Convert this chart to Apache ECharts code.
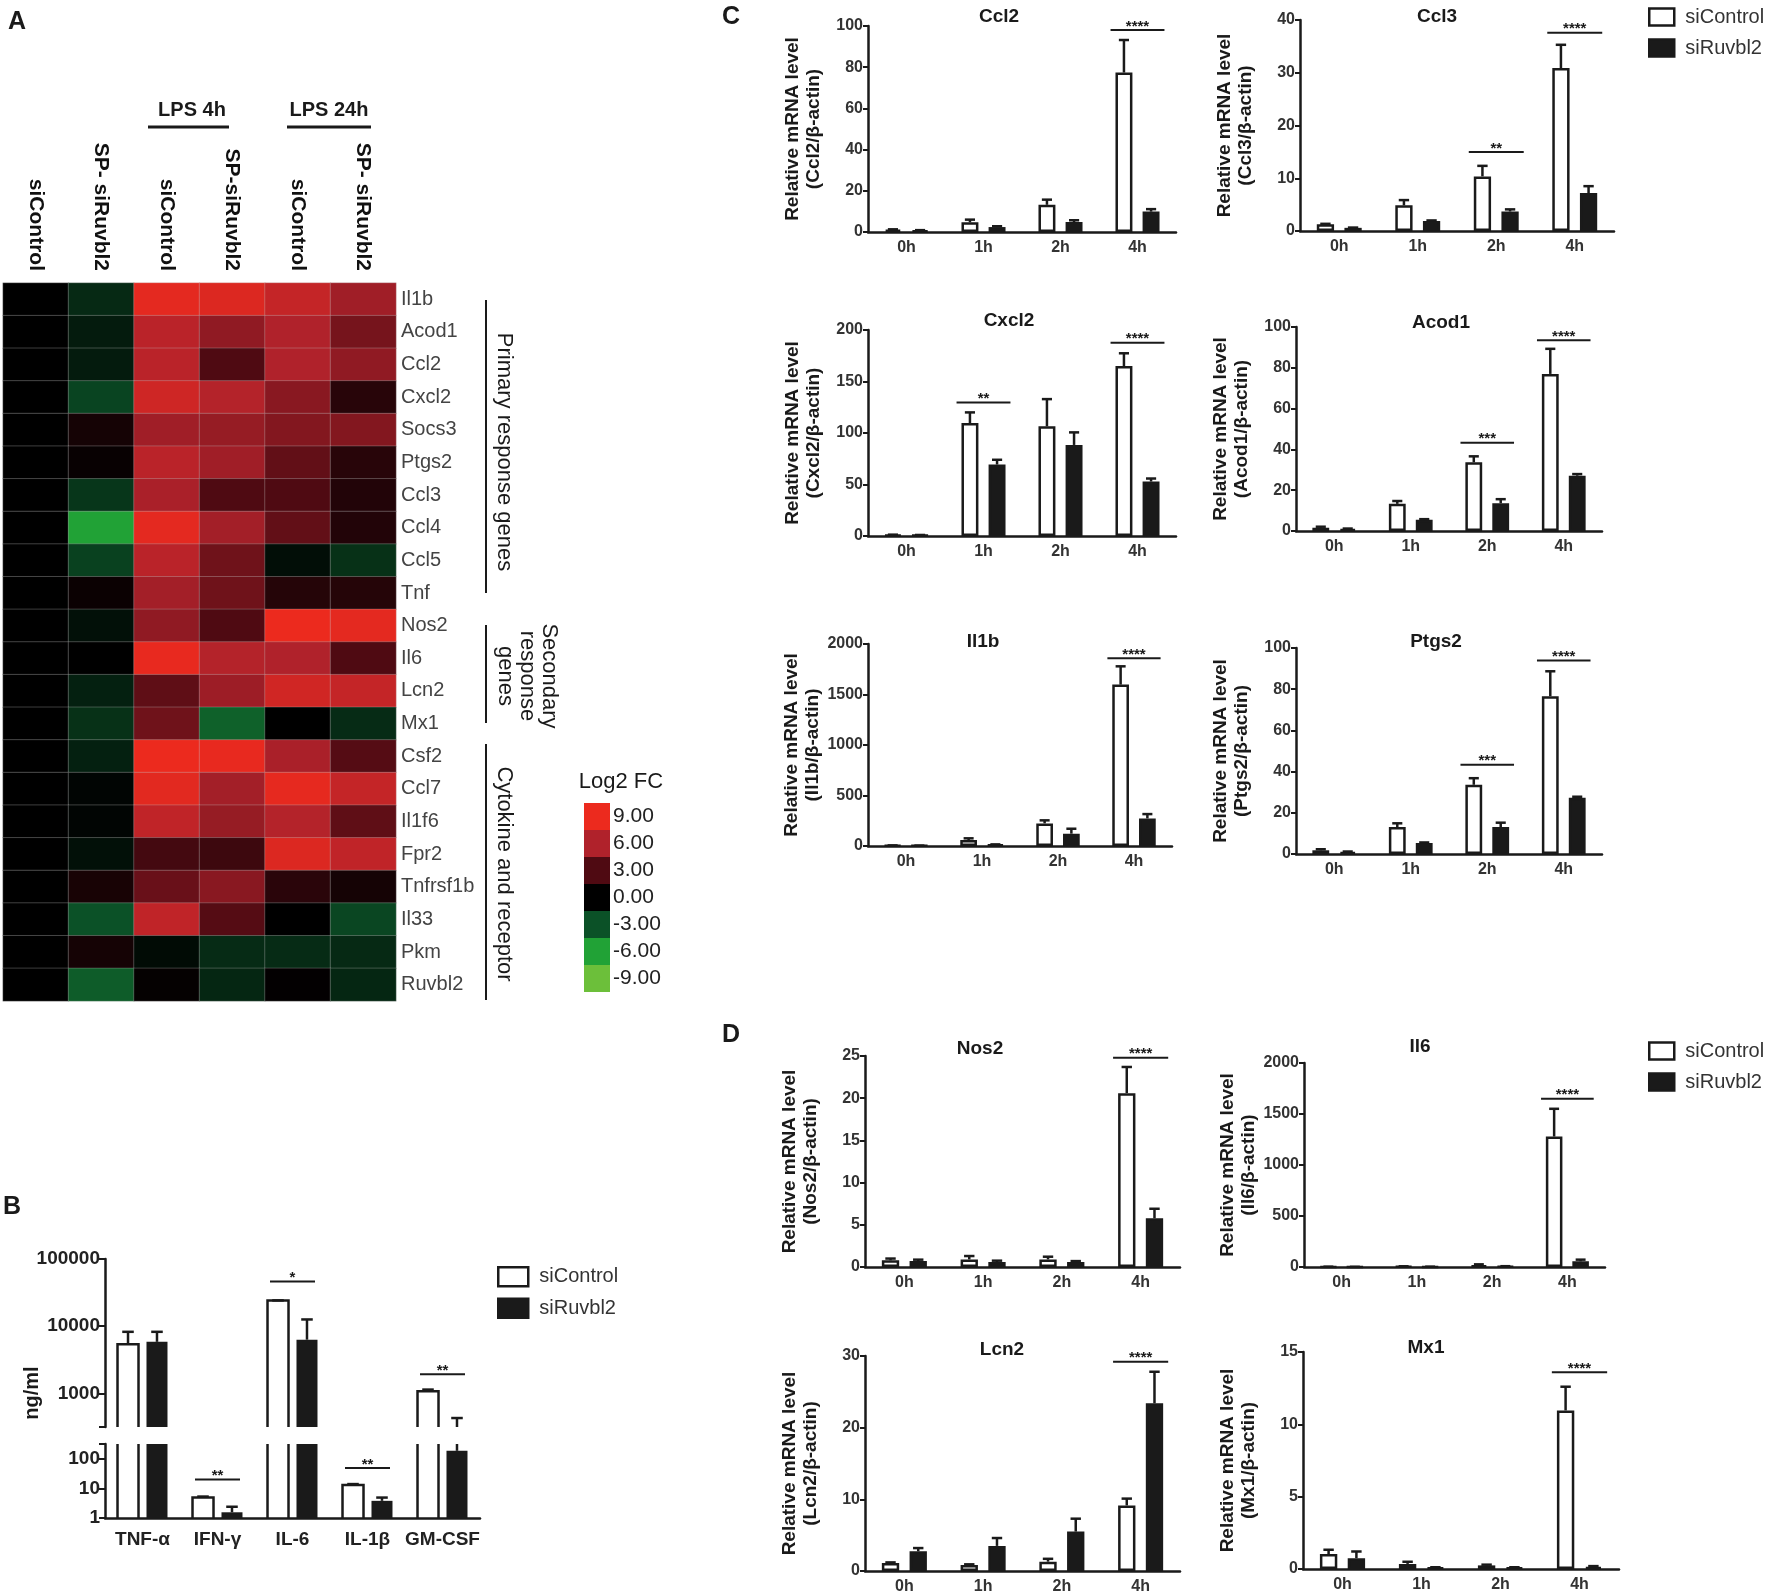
<!DOCTYPE html>
<html>
<head>
<meta charset="utf-8">
<script src="https://cdn.jsdelivr.net/npm/echarts@6/dist/echarts.min.js"></script>
<style>
html, body { margin: 0; padding: 0; background: #fff; }
#main { width: 1772px; height: 1594px; }
</style>
</head>
<body>
<div id="main"></div>
<script>
// ---------- A: heatmap ----------
const heatSamples = ['siControl', 'SP- siRuvbl2', 'siControl', 'SP-siRuvbl2', 'siControl', 'SP- siRuvbl2'];
const heatGenes = ['Il1b', 'Acod1', 'Ccl2', 'Cxcl2', 'Socs3', 'Ptgs2', 'Ccl3', 'Ccl4', 'Ccl5', 'Tnf',
  'Nos2', 'Il6', 'Lcn2', 'Mx1', 'Csf2', 'Ccl7', 'Il1f6', 'Fpr2', 'Tnfrsf1b', 'Il33', 'Pkm', 'Ruvbl2'];
const heatLog2fc = [
  [0, -1.5, 8.6, 8.2, 7.0, 5.5],
  [0, -1.0, 6.5, 5.0, 6.0, 4.2],
  [0, -1.0, 6.5, 3.0, 6.0, 5.0],
  [0, -2.5, 7.5, 6.2, 4.8, 1.5],
  [0, 0.8, 5.5, 5.2, 4.6, 4.6],
  [0, 0.3, 6.5, 5.5, 3.6, 1.5],
  [0, -2.0, 5.8, 3.0, 3.0, 1.3],
  [0, -6.0, 8.6, 5.6, 3.6, 1.3],
  [0, -2.4, 6.5, 4.0, -0.5, -1.8],
  [0, 0.4, 5.6, 4.0, 1.4, 1.4],
  [0, -0.6, 5.0, 3.0, 9.0, 8.6],
  [0, 0.0, 8.8, 6.2, 6.0, 3.0],
  [0, -1.2, 3.5, 5.4, 7.6, 7.0],
  [0, -1.8, 4.0, -3.6, 0.0, -1.6],
  [0, -1.2, 9.0, 8.8, 5.8, 3.2],
  [0, -0.2, 8.5, 5.6, 8.7, 7.0],
  [0, -0.2, 6.8, 5.2, 6.2, 3.5],
  [0, -0.6, 2.6, 2.3, 8.2, 6.8],
  [0, 0.9, 3.8, 4.8, 1.6, 0.8],
  [0, -3.0, 6.8, 3.2, 0.0, -2.6],
  [0, 0.8, -0.4, -1.6, -1.6, -1.5],
  [0, -3.4, 0.2, -1.4, 0.1, -1.4]
];
const fcLevels = [-9, -6, -3, 0, 3, 6, 9];
const fcLabels = ['-9.00', '-6.00', '-3.00', '0.00', '3.00', '6.00', '9.00'];
const fcColors = ['#6cbf3a', '#21a236', '#0b5127', '#000000', '#4f0a12', '#b0222b', '#ec2a1e'];

// ---------- B: ELISA (log scale, broken axis) ----------
const bCats = ['TNF-α', 'IFN-γ', 'IL-6', 'IL-1β', 'GM-CSF'];
const bCtrl = [5400, 4.9, 24200, 13, 1080];
const bCtrlSd = [2850, 0.4, 0, 1, 60];
const bRuv = [5850, 1.56, 6300, 3.8, 186];
const bRuvSd = [2400, 0.84, 6300, 1.1, 244];
const bSig = [[1, 20, '**'], [2, 46400, '*'], [3, 49, '**'], [4, 1920, '**']];
const bBreak = 316.2278;
const bTop = 100000;

// ---------- C / D: qPCR ----------
const timeCats = ['0h', '1h', '2h', '4h'];

const ccl2Ctrl = [1.1, 4.7, 13.2, 77.4], ccl2CtrlSd = [0.2, 1.3, 2.5, 15.8];
const ccl2Ruv = [0.8, 2.4, 4.8, 9.9], ccl2RuvSd = [0.1, 0.4, 0.9, 1.2];
const ccl2Sig = [[3, 98, '****']];

const ccl3Ctrl = [1.26, 4.86, 10.35, 30.9], ccl3CtrlSd = [0.1, 1.0, 2.0, 4.4];
const ccl3Ruv = [0.6, 1.9, 3.7, 7.2], ccl3RuvSd = [0.05, 0.1, 0.4, 1.3];
const ccl3Sig = [[2, 15, '**'], [3, 37.6, '****']];

const cxcl2Ctrl = [1.0, 109.7, 106.5, 165], cxcl2CtrlSd = [0.3, 10.3, 26.4, 12.4];
const cxcl2Ruv = [0.8, 69.4, 88.4, 52.9], cxcl2RuvSd = [0.2, 4.6, 12.2, 2.9];
const cxcl2Sig = [[1, 129.7, '**'], [3, 187.7, '****']];

const acod1Ctrl = [1.6, 13.3, 33.7, 77.0], acod1CtrlSd = [0.5, 1.4, 2.9, 12.3];
const acod1Ruv = [1.0, 5.5, 13.6, 27.1], acod1RuvSd = [0.2, 0.3, 2.0, 0.8];
const acod1Sig = [[2, 43.3, '***'], [3, 93.5, '****']];

const il1bCtrl = [5, 59, 224, 1598], il1bCtrlSd = [1, 17, 30, 181];
const il1bRuv = [3, 13, 122, 273], il1bRuvSd = [1, 3, 49, 43];
const il1bSig = [[3, 1858, '****']];

const ptgs2Ctrl = [1.8, 13.1, 33.6, 76.6], ptgs2CtrlSd = [0.5, 1.8, 3.2, 12.1];
const ptgs2Ruv = [1.0, 5.3, 13.1, 27.3], ptgs2RuvSd = [0.2, 0.3, 2.1, 0.5];
const ptgs2Sig = [[2, 43.3, '***'], [3, 93.9, '****']];

const nos2Ctrl = [0.79, 0.9, 0.9, 20.6], nos2CtrlSd = [0.21, 0.4, 0.32, 3.1];
const nos2Ruv = [0.7, 0.6, 0.6, 5.77], nos2RuvSd = [0.17, 0.15, 0.1, 1.13];
const nos2Sig = [[3, 24.8, '****']];

const il6Ctrl = [2, 5, 16, 1279], il6CtrlSd = [1, 2, 10, 272];
const il6Ruv = [1, 2, 6, 56], il6RuvSd = [0.5, 1, 2, 16];
const il6Sig = [[3, 1649, '****']];

const lcn2Ctrl = [1.1, 0.84, 1.3, 9.15], lcn2CtrlSd = [0.1, 0.09, 0.4, 0.95];
const lcn2Ruv = [2.75, 3.5, 5.5, 23.4], lcn2RuvSd = [0.45, 1.1, 1.8, 4.4];
const lcn2Sig = [[3, 29.2, '****']];

const mx1Ctrl = [1.03, 0.35, 0.25, 10.96], mx1CtrlSd = [0.3, 0.15, 0.05, 1.64];
const mx1Ruv = [0.75, 0.1, 0.1, 0.15], mx1RuvSd = [0.46, 0.02, 0.02, 0.05];
const mx1Sig = [[3, 13.6, '****']];

const qpcrGenes = ['Ccl2', 'Ccl3', 'Cxcl2', 'Acod1', 'Il1b', 'Ptgs2', 'Nos2', 'Il6', 'Lcn2', 'Mx1'];
const qpcrAxisMax = [100, 40, 200, 100, 2000, 100, 25, 2000, 30, 15];
const qpcrAxisStep = [20, 10, 50, 20, 500, 20, 5, 500, 10, 5];

// ---------- drawing ----------
const SANS = "'Liberation Sans', Arial, sans-serif";
const NARROW = "'Liberation Sans Narrow', 'Liberation Sans', Arial, sans-serif";
const INK = '#1a1a1a';

const option = {
  animation: false,
  backgroundColor: '#fff',
  grid: [], xAxis: [], yAxis: [], series: [], legend: [], visualMap: [], graphic: []
};

function addText(x, y, str, font, extra) {
  option.graphic.push(Object.assign({
    type: 'text', x: x, y: y, silent: true,
    style: { text: str, font: font, fill: INK, textAlign: 'center', textVerticalAlign: 'middle' }
  }, extra || {}));
}
function addLine(x1, y1, x2, y2, w) {
  option.graphic.push({ type: 'line', silent: true, shape: { x1: x1, y1: y1, x2: x2, y2: y2 }, style: { stroke: INK, lineWidth: w || 2 } });
}

// panel letters
addText(17, 22, 'A', 'bold 25px ' + SANS, {});
addText(12, 1207, 'B', 'bold 25px ' + SANS, {});
addText(731, 17, 'C', 'bold 25px ' + SANS, {});
addText(731, 1035, 'D', 'bold 25px ' + SANS, {});

// ---- heatmap ----
option.grid.push({ left: 3, top: 283, width: 393, height: 718, outerBoundsMode: 'none' });
option.xAxis.push({
  type: 'category', gridIndex: 0, position: 'top', data: heatSamples,
  axisLine: { show: false }, axisTick: { show: false }, splitLine: { show: false },
  axisLabel: { rotate: 90, interval: 0, margin: 12, fontFamily: SANS, fontWeight: 'bold', fontSize: 21, color: '#111' }
});
option.yAxis.push({
  type: 'category', gridIndex: 0, position: 'right', inverse: true, data: heatGenes,
  axisLine: { show: false }, axisTick: { show: false }, splitLine: { show: false },
  axisLabel: { interval: 0, margin: 5, fontFamily: SANS, fontSize: 20, color: '#444' }
});
const heatData = [];
heatLog2fc.forEach(function (row, r) { row.forEach(function (v, c) { heatData.push([c, r, v]); }); });
option.series.push({
  type: 'heatmap', xAxisIndex: 0, yAxisIndex: 0, data: heatData,
  itemStyle: { borderColor: 'rgba(200,200,200,0.3)', borderWidth: 1 }
});
option.series.push({ type: 'scatter', xAxisIndex: 0, yAxisIndex: 0, data: [], silent: true });
option.visualMap.push({
  type: 'continuous', show: false, seriesIndex: 0, dimension: 2, min: -9, max: 9,
  inRange: { color: fcColors }
});
option.visualMap.push({
  type: 'piecewise', seriesIndex: 1, orient: 'vertical', left: 579, top: 798, padding: 5,
  itemWidth: 26, itemHeight: 27, itemGap: 0, itemSymbol: 'rect', selectedMode: false,
  textGap: 3, textStyle: { fontFamily: SANS, fontSize: 21, color: '#222' },
  pieces: fcLevels.map(function (v, i) { return { value: v, label: fcLabels[i], color: fcColors[i] }; })
});
addText(621, 782, 'Log2 FC', '22px ' + SANS);
addText(192, 110, 'LPS 4h', 'bold 20px ' + SANS);
addText(329, 110, 'LPS 24h', 'bold 20px ' + SANS);
addLine(148, 127, 229, 127, 3);
addLine(287, 127, 371, 127, 3);
addLine(486, 300, 486, 593, 2);
addLine(486, 625, 486, 723, 2);
addLine(486, 744, 486, 1000, 2);
addText(504, 452, 'Primary response genes', '22px ' + SANS, { rotation: -Math.PI / 2 });
addText(527, 676, 'Secondary\nresponse\ngenes', '22px ' + SANS, { rotation: -Math.PI / 2 });
addText(504, 874, 'Cytokine and receptor', '22px ' + SANS, { rotation: -Math.PI / 2 });

// ---- shared bar helpers ----
function bandWidth(api, v) {
  return api.coord([1, v])[0] - api.coord([0, v])[0];
}
// error bar above a bar: off = centre offset, cap = cap width, both as fraction of the band
function errSeries(ax, mean, sd, off, cap, clip) {
  return {
    type: 'custom', xAxisIndex: ax, yAxisIndex: ax, clip: clip, z: 4, silent: true,
    data: mean.map(function (m, i) { return [i, m, m + sd[i]]; }),
    renderItem: function (params, api) {
      const a = api.coord([api.value(0), api.value(1)]);
      const b = api.coord([api.value(0), api.value(2)]);
      const bw = bandWidth(api, api.value(1));
      const x = a[0] + off * bw, c = cap * bw / 2;
      const st = { stroke: INK, lineWidth: 2.5 };
      return { type: 'group', children: [
        { type: 'line', shape: { x1: x, y1: a[1], x2: x, y2: b[1] }, style: st },
        { type: 'line', shape: { x1: x - c, y1: b[1], x2: x + c, y2: b[1] }, style: st }
      ] };
    }
  };
}
// open outline of a bar (no bottom edge), so bars cut by the axis break stay open
function outlineSeries(ax, values, off, bar) {
  return {
    type: 'custom', xAxisIndex: ax, yAxisIndex: ax, clip: true, z: 3, silent: true,
    data: values.map(function (v, i) { return [i, v]; }),
    renderItem: function (params, api) {
      const p = api.coord([api.value(0), api.value(1)]);
      const base = api.coord([api.value(0), 1])[1];
      const bw = bandWidth(api, api.value(1));
      const x = p[0] + off * bw, h = bar * bw / 2;
      return { type: 'polyline',
        shape: { points: [[x - h, base], [x - h, p[1]], [x + h, p[1]], [x + h, base]] },
        style: { stroke: INK, lineWidth: 2.5, fill: null } };
    }
  };
}
function sigSeries(ax, sig, half) {
  return {
    type: 'custom', xAxisIndex: ax, yAxisIndex: ax, clip: false, z: 5, silent: true,
    data: sig.map(function (s) { return [s[0], s[1]]; }),
    renderItem: function (params, api) {
      const p = api.coord([api.value(0), api.value(1)]);
      const bw = bandWidth(api, api.value(1));
      return { type: 'group', children: [
        { type: 'line', shape: { x1: p[0] - half * bw, y1: p[1], x2: p[0] + half * bw, y2: p[1] }, style: { stroke: INK, lineWidth: 2 } },
        { type: 'text', x: p[0], y: p[1] + 4, style: { text: sig[params.dataIndex][2], font: 'bold 15px ' + SANS, fill: INK, textAlign: 'center', textVerticalAlign: 'bottom' } }
      ] };
    }
  };
}
function addBars(ax, ctrl, ctrlSd, ruv, ruvSd, bar, gap, cap, broken) {
  const off = (bar + bar * gap) / 2;
  option.series.push({ name: 'siControl', type: 'bar', xAxisIndex: ax, yAxisIndex: ax, data: ctrl,
    barWidth: (bar * 100) + '%', clip: true, silent: true, z: 2,
    itemStyle: broken ? { color: 'rgba(0,0,0,0)', borderWidth: 0 }
                      : { color: '#fff', borderColor: INK, borderWidth: 2.5 } });
  option.series.push({ name: 'siRuvbl2', type: 'bar', xAxisIndex: ax, yAxisIndex: ax, data: ruv,
    barWidth: (bar * 100) + '%', barGap: (gap * 100) + '%', clip: true, silent: true, z: 2,
    itemStyle: { color: INK, borderColor: INK, borderWidth: broken ? 0 : 2.5 } });
  if (broken) option.series.push(outlineSeries(ax, ctrl, -off, bar));
  option.series.push(errSeries(ax, ctrl, ctrlSd, -off, cap * bar, broken));
  option.series.push(errSeries(ax, ruv, ruvSd, off, cap * bar, broken));
}
const legendData = [
  { name: 'siControl', itemStyle: { color: '#fff', borderColor: INK, borderWidth: 2.5 } },
  { name: 'siRuvbl2', itemStyle: { color: INK, borderColor: INK, borderWidth: 2.5 } }
];
function addLegend(left, top, w, h, gap) {
  option.legend.push({
    orient: 'vertical', left: left, top: top, itemWidth: w, itemHeight: h, itemGap: gap,
    icon: 'rect', selectedMode: false, data: legendData, padding: 0,
    textStyle: { fontFamily: SANS, fontSize: 20, color: '#333', padding: [0, 0, 0, 6] }
  });
}
const axisLineStyle = { color: INK, width: 2.5 };

// ---- B ----
function powLabel(v) {
  const e = Math.log10(v);
  return Math.abs(e - Math.round(e)) < 1e-6 ? String(Math.round(v)) : '';
}
const bBoxes = [
  { top: 1259, height: 168, min: bBreak, max: bTop, showX: false },
  { top: 1444, height: 74, min: 1, max: bBreak, showX: true }
];
bBoxes.forEach(function (box) {
  const ax = option.grid.length;
  option.grid.push({ left: 105, top: box.top, width: 375, height: box.height, outerBoundsMode: 'none' });
  option.xAxis.push({
    type: 'category', gridIndex: ax, data: bCats, show: box.showX,
    axisLine: { lineStyle: axisLineStyle },
    axisTick: { alignWithLabel: true, length: 6, lineStyle: { color: INK, width: 2 } },
    axisLabel: { interval: 0, margin: 12, fontFamily: SANS, fontWeight: 'bold', fontSize: 19, color: '#222' }
  });
  option.yAxis.push({
    type: 'log', logBase: 10, gridIndex: ax, min: box.min, max: box.max,
    axisLine: { show: true, lineStyle: axisLineStyle },
    axisTick: { show: true, length: 6, lineStyle: { color: INK, width: 2 } },
    splitLine: { show: false }, minorTick: { show: false },
    axisLabel: { margin: 5, formatter: powLabel, fontFamily: SANS, fontWeight: 'bold', fontSize: 19, color: '#222' }
  });
  addBars(ax, bCtrl, bCtrlSd, bRuv, bRuvSd, 0.28, 0.38, 0.55, true);
  const inBox = bSig.filter(function (s) { return s[1] >= box.min && s[1] <= box.max; });
  option.series.push(sigSeries(ax, inBox, 0.3));
});
addText(32, 1393, 'ng/ml', 'bold 20px ' + SANS, { rotation: Math.PI / 2 });
addLegend(497, 1266, 30, 19, 10);

// ---- C / D ----
const qpcrData = {
  Ccl2: [ccl2Ctrl, ccl2CtrlSd, ccl2Ruv, ccl2RuvSd, ccl2Sig],
  Ccl3: [ccl3Ctrl, ccl3CtrlSd, ccl3Ruv, ccl3RuvSd, ccl3Sig],
  Cxcl2: [cxcl2Ctrl, cxcl2CtrlSd, cxcl2Ruv, cxcl2RuvSd, cxcl2Sig],
  Acod1: [acod1Ctrl, acod1CtrlSd, acod1Ruv, acod1RuvSd, acod1Sig],
  Il1b: [il1bCtrl, il1bCtrlSd, il1bRuv, il1bRuvSd, il1bSig],
  Ptgs2: [ptgs2Ctrl, ptgs2CtrlSd, ptgs2Ruv, ptgs2RuvSd, ptgs2Sig],
  Nos2: [nos2Ctrl, nos2CtrlSd, nos2Ruv, nos2RuvSd, nos2Sig],
  Il6: [il6Ctrl, il6CtrlSd, il6Ruv, il6RuvSd, il6Sig],
  Lcn2: [lcn2Ctrl, lcn2CtrlSd, lcn2Ruv, lcn2RuvSd, lcn2Sig],
  Mx1: [mx1Ctrl, mx1CtrlSd, mx1Ruv, mx1RuvSd, mx1Sig]
};
// plot boxes (px) and title anchors, in qpcrGenes order
const qpcrBoxes = [
  [868, 26, 308, 206, 999, 17],
  [1300, 20, 314, 211, 1437, 17],
  [868, 330, 308, 206, 1009, 321],
  [1296, 327, 306, 204, 1441, 323],
  [868, 644, 304, 202, 983, 642],
  [1296, 648, 306, 206, 1436, 642],
  [865, 1056, 315, 211, 980, 1049],
  [1304, 1063, 301, 204, 1420, 1047],
  [865, 1356, 315, 215, 1002, 1350],
  [1303, 1352, 316, 217, 1426, 1348]
];
qpcrGenes.forEach(function (gene, k) {
  const b = qpcrBoxes[k];
  const d = qpcrData[gene];
  const ax = option.grid.length;
  option.grid.push({ left: b[0], top: b[1], width: b[2], height: b[3], outerBoundsMode: 'none' });
  option.xAxis.push({
    type: 'category', gridIndex: ax, data: timeCats,
    axisLine: { lineStyle: axisLineStyle },
    axisTick: { alignWithLabel: true, length: 5, lineStyle: { color: INK, width: 2 } },
    axisLabel: { margin: 8, fontFamily: NARROW, fontWeight: 'bold', fontSize: 16, color: '#333' }
  });
  option.yAxis.push({
    type: 'value', gridIndex: ax, min: 0, max: qpcrAxisMax[k], interval: qpcrAxisStep[k],
    axisLine: { show: true, lineStyle: axisLineStyle },
    axisTick: { show: true, length: 5, lineStyle: { color: INK, width: 2 } },
    splitLine: { show: false },
    axisLabel: { margin: 5, formatter: function (v) { return String(v); },
      fontFamily: NARROW, fontWeight: 'bold', fontSize: 16, color: '#333' },
    name: 'Relative mRNA level\n(' + gene + '/β-actin)', nameLocation: 'middle', nameRotate: 90, nameGap: 44,
    nameTextStyle: { fontFamily: SANS, fontWeight: 'bold', fontSize: 19, lineHeight: 21, color: INK }
  });
  addBars(ax, d[0], d[1], d[2], d[3], 0.22, 0.6, 0.6, false);
  option.series.push(sigSeries(ax, d[4], 0.35));
  addText(b[4], b[5], gene, 'bold 19px ' + SANS);
});
addLegend(1648, 7, 25, 17, 11);
addLegend(1648, 1041, 25, 17, 11);

const chart = echarts.init(document.getElementById('main'), null, { renderer: 'canvas' });
chart.setOption(option);
</script>
</body>
</html>
